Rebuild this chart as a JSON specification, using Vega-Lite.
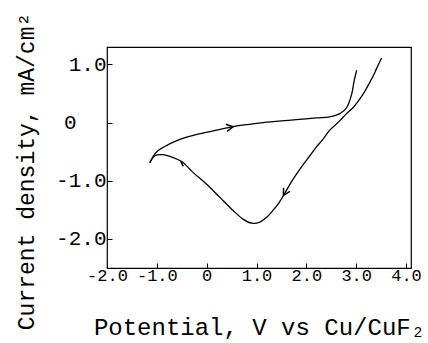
{
  "$schema": "https://vega.github.io/schema/vega-lite/v6.json",
  "width": 304,
  "height": 221,
  "autosize": {"type": "none"},
  "padding": {"left": 107, "top": 47, "right": 17, "bottom": 75},
  "background": "white",
  "config": {
    "view": {"stroke": "black", "strokeWidth": 1.2},
    "font": "Liberation Mono, DejaVu Sans Mono, monospace",
    "axis": {
      "labelFont": "Liberation Mono, DejaVu Sans Mono, monospace",
      "titleFont": "Liberation Mono, DejaVu Sans Mono, monospace",
      "labelColor": "black",
      "titleColor": "black",
      "tickColor": "black",
      "tickWidth": 1,
      "domain": false,
      "grid": false,
      "labelFlush": false,
      "labelOverlap": false,
      "titleFontWeight": "normal"
    }
  },
  "datasets": {
    "curves": [
      {"branch": "anodic", "seq": 1, "potential": -1.14, "current": -0.69},
      {"branch": "anodic", "seq": 2, "potential": -1.08, "current": -0.59},
      {"branch": "anodic", "seq": 3, "potential": -1.0, "current": -0.5},
      {"branch": "anodic", "seq": 4, "potential": -0.84, "current": -0.41},
      {"branch": "anodic", "seq": 5, "potential": -0.6, "current": -0.31},
      {"branch": "anodic", "seq": 6, "potential": -0.4, "current": -0.25},
      {"branch": "anodic", "seq": 7, "potential": -0.13, "current": -0.19},
      {"branch": "anodic", "seq": 8, "potential": 0.2, "current": -0.13},
      {"branch": "anodic", "seq": 9, "potential": 0.53, "current": -0.07},
      {"branch": "anodic", "seq": 10, "potential": 0.85, "current": -0.03},
      {"branch": "anodic", "seq": 11, "potential": 1.13, "current": 0.0},
      {"branch": "anodic", "seq": 12, "potential": 1.5, "current": 0.03},
      {"branch": "anodic", "seq": 13, "potential": 1.8, "current": 0.05},
      {"branch": "anodic", "seq": 14, "potential": 2.2, "current": 0.08},
      {"branch": "anodic", "seq": 15, "potential": 2.47, "current": 0.1},
      {"branch": "anodic", "seq": 16, "potential": 2.6, "current": 0.13},
      {"branch": "anodic", "seq": 17, "potential": 2.7, "current": 0.17},
      {"branch": "anodic", "seq": 18, "potential": 2.81, "current": 0.26},
      {"branch": "anodic", "seq": 19, "potential": 2.91, "current": 0.49},
      {"branch": "anodic", "seq": 20, "potential": 2.96, "current": 0.72},
      {"branch": "anodic", "seq": 21, "potential": 3.01, "current": 0.9},
      {"branch": "cathodic", "seq": 1, "potential": 3.51, "current": 1.11},
      {"branch": "cathodic", "seq": 2, "potential": 3.42, "current": 0.95},
      {"branch": "cathodic", "seq": 3, "potential": 3.34, "current": 0.8},
      {"branch": "cathodic", "seq": 4, "potential": 3.24, "current": 0.64},
      {"branch": "cathodic", "seq": 5, "potential": 3.14, "current": 0.49},
      {"branch": "cathodic", "seq": 6, "potential": 3.04, "current": 0.37},
      {"branch": "cathodic", "seq": 7, "potential": 2.94, "current": 0.26},
      {"branch": "cathodic", "seq": 8, "potential": 2.8, "current": 0.15},
      {"branch": "cathodic", "seq": 9, "potential": 2.67, "current": 0.03},
      {"branch": "cathodic", "seq": 10, "potential": 2.47, "current": -0.13},
      {"branch": "cathodic", "seq": 11, "potential": 2.34, "current": -0.28},
      {"branch": "cathodic", "seq": 12, "potential": 2.2, "current": -0.42},
      {"branch": "cathodic", "seq": 13, "potential": 2.07, "current": -0.57},
      {"branch": "cathodic", "seq": 14, "potential": 1.94, "current": -0.72},
      {"branch": "cathodic", "seq": 15, "potential": 1.84, "current": -0.84},
      {"branch": "cathodic", "seq": 16, "potential": 1.7, "current": -1.02},
      {"branch": "cathodic", "seq": 17, "potential": 1.57, "current": -1.21},
      {"branch": "cathodic", "seq": 18, "potential": 1.45, "current": -1.38},
      {"branch": "cathodic", "seq": 19, "potential": 1.33, "current": -1.51},
      {"branch": "cathodic", "seq": 20, "potential": 1.2, "current": -1.63},
      {"branch": "cathodic", "seq": 21, "potential": 1.07, "current": -1.71},
      {"branch": "cathodic", "seq": 22, "potential": 0.9, "current": -1.73},
      {"branch": "cathodic", "seq": 23, "potential": 0.73, "current": -1.66},
      {"branch": "cathodic", "seq": 24, "potential": 0.53, "current": -1.51},
      {"branch": "cathodic", "seq": 25, "potential": 0.27, "current": -1.29},
      {"branch": "cathodic", "seq": 26, "potential": 0.0, "current": -1.06},
      {"branch": "cathodic", "seq": 27, "potential": -0.27, "current": -0.86},
      {"branch": "cathodic", "seq": 28, "potential": -0.5, "current": -0.67},
      {"branch": "cathodic", "seq": 29, "potential": -0.74, "current": -0.58},
      {"branch": "cathodic", "seq": 30, "potential": -0.88, "current": -0.55},
      {"branch": "cathodic", "seq": 31, "potential": -1.04, "current": -0.57},
      {"branch": "cathodic", "seq": 32, "potential": -1.14, "current": -0.69}
    ],
    "arrows": [
      {"arrow": "forward", "potential": 0.53, "current": -0.07},
      {"arrow": "reverse", "potential": 1.54, "current": -1.25},
      {"arrow": "return", "potential": -0.52, "current": -0.665}
    ]
  },
  "layer": [
    {
      "data": {"name": "curves"},
      "mark": {"type": "line", "interpolate": "catmull-rom", "color": "black", "strokeWidth": 1.3},
      "encoding": {
        "x": {
          "field": "potential",
          "type": "quantitative",
          "scale": {"domain": [-2, 4.1], "nice": false, "zero": false},
          "axis": {
            "values": [-2, -1, 0, 1, 2, 3, 4],
            "labelExpr": "datum.value == 0 ? '0' : (datum.value < 0 ? '-' : '') + format(abs(datum.value), '.1f')",
            "title": "Potential, V vs Cu/CuF₂",
            "tickSize": -5,
            "labelFontSize": 17,
            "labelPadding": 4,
            "titleFontSize": 24,
            "titleY": 66,
            "titleBaseline": "alphabetic"
          }
        },
        "y": {
          "field": "current",
          "type": "quantitative",
          "scale": {"domain": [-2.5, 1.3], "nice": false, "zero": false},
          "axis": {
            "values": [-2, -1.5, -1, -0.5, 0, 0.5, 1],
            "labelExpr": "datum.value == 0 ? '0\\u2800\\u2800' : (datum.value % 1 != 0 ? '' : (datum.value < 0 ? '-' : '') + format(abs(datum.value), '.1f'))",
            "labelPadding": 6,
            "title": "Current density, mA/cm²",
            "tickSize": -5,
            "labelFontSize": 21,
            "titleFontSize": 23,
            "titleAngle": -90,
            "titleX": -74,
            "titleY": 124,
            "titleBaseline": "alphabetic"
          }
        },
        "detail": {"field": "branch"},
        "order": {"field": "seq", "type": "quantitative"}
      }
    },
    {
      "data": {"name": "arrows"},
      "transform": [{"filter": "datum.arrow == 'forward'"}],
      "mark": {"type": "point", "shape": "M-1,-0.55L0,0L-1,0.55", "filled": false, "stroke": "black", "strokeWidth": 1.5, "size": 180, "angle": -10, "opacity": 1},
      "encoding": {"x": {"field": "potential", "type": "quantitative"}, "y": {"field": "current", "type": "quantitative"}}
    },
    {
      "data": {"name": "arrows"},
      "transform": [{"filter": "datum.arrow == 'reverse'"}],
      "mark": {"type": "point", "shape": "M-1,-0.55L0,0L-1,0.55", "filled": false, "stroke": "black", "strokeWidth": 1.5, "size": 180, "angle": 120, "opacity": 1},
      "encoding": {"x": {"field": "potential", "type": "quantitative"}, "y": {"field": "current", "type": "quantitative"}}
    },
    {
      "data": {"name": "arrows"},
      "transform": [{"filter": "datum.arrow == 'return'"}],
      "mark": {"type": "point", "shape": "M-1,-0.55L0,0", "filled": false, "stroke": "black", "strokeWidth": 1.5, "size": 100, "angle": -145, "opacity": 1},
      "encoding": {"x": {"field": "potential", "type": "quantitative"}, "y": {"field": "current", "type": "quantitative"}}
    }
  ]
}
